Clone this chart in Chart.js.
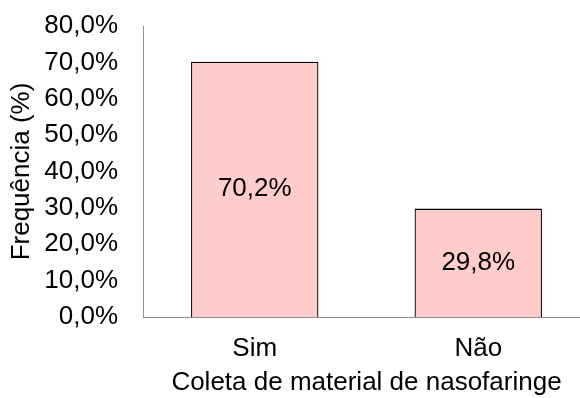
<!DOCTYPE html>
<html>
<head>
<meta charset="utf-8">
<script src="https://cdn.jsdelivr.net/npm/chart.js@4"></script>
<style>
  html, body { margin: 0; padding: 0; background: #fff; overflow: hidden; }
  #wrap { width: 590px; height: 398px; }
</style>
</head>
<body>
<div id="wrap"><canvas id="chart" width="590" height="398"></canvas></div>
<script>
"use strict";

var categories = ["Sim", "Não"];
var frequencies = [70.2, 29.8];
var axisTitleX = "Coleta de material de nasofaringe";
var axisTitleY = "Frequência (%)";

var FONT = "'Liberation Sans', Arial, sans-serif";
var SIZE = 26;

function pct(v) {
    return v.toFixed(1).replace(".", ",") + "%";
}

// labels drawn in the middle of each bar
var barLabels = {
    id: "barLabels",
    afterDatasetsDraw: function (chart) {
        var ctx = chart.ctx;
        var meta = chart.getDatasetMeta(0);
        ctx.save();
        ctx.font = SIZE + "px " + FONT;
        ctx.fillStyle = "#000";
        ctx.textAlign = "center";
        ctx.textBaseline = "middle";
        meta.data.forEach(function (bar, i) {
            var p = bar.getProps(["x", "y", "base"], true);
            ctx.fillText(pct(frequencies[i]), p.x, (p.y + p.base) / 2);
        });
        ctx.restore();
    }
};

var ctx = document.getElementById("chart").getContext("2d");

var myChart = new Chart(ctx, {
    type: "bar",
    data: {
        labels: categories,
        datasets: [{
            data: frequencies,
            backgroundColor: "#ffcccc",
            borderColor: "#000",
            borderWidth: 1.3,
            barPercentage: 0.57,
            categoryPercentage: 1.0,
        }],
    },
    options: {
        responsive: false,
        animation: false,
        layout: { padding: { top: 26, left: 0, right: 0, bottom: 0 } },
        plugins: {
            legend: { display: false },
            tooltip: { enabled: false },
        },
        scales: {
            x: {
                grid: { display: false, drawTicks: false },
                border: { color: "#8c8c8c", width: 1 },
                ticks: { color: "#000", font: { family: FONT, size: SIZE }, padding: 16 },
                title: {
                    display: true,
                    text: axisTitleX,
                    color: "#000",
                    font: { family: FONT, size: SIZE },
                    padding: { top: 2, bottom: 0 },
                },
                afterFit: function (scale) {
                    scale.height = 81;
                    scale.paddingLeft = 0;
                    scale.paddingRight = 0;
                },
            },
            y: {
                min: 0,
                max: 80,
                grid: { display: false, drawTicks: false },
                border: { color: "#8c8c8c", width: 1 },
                ticks: {
                    stepSize: 10,
                    color: "#000",
                    font: { family: FONT, size: SIZE },
                    padding: 25,
                    callback: function (v) { return pct(v); },
                },
                title: {
                    display: true,
                    text: axisTitleY,
                    color: "#000",
                    font: { family: FONT, size: SIZE },
                    padding: { top: 6, bottom: 0 },
                },
                afterFit: function (scale) {
                    scale.width = 143;
                    scale.paddingTop = 0;
                    scale.paddingBottom = 0;
                },
            },
        },
    },
    plugins: [barLabels],
});
</script>
</body>
</html>
